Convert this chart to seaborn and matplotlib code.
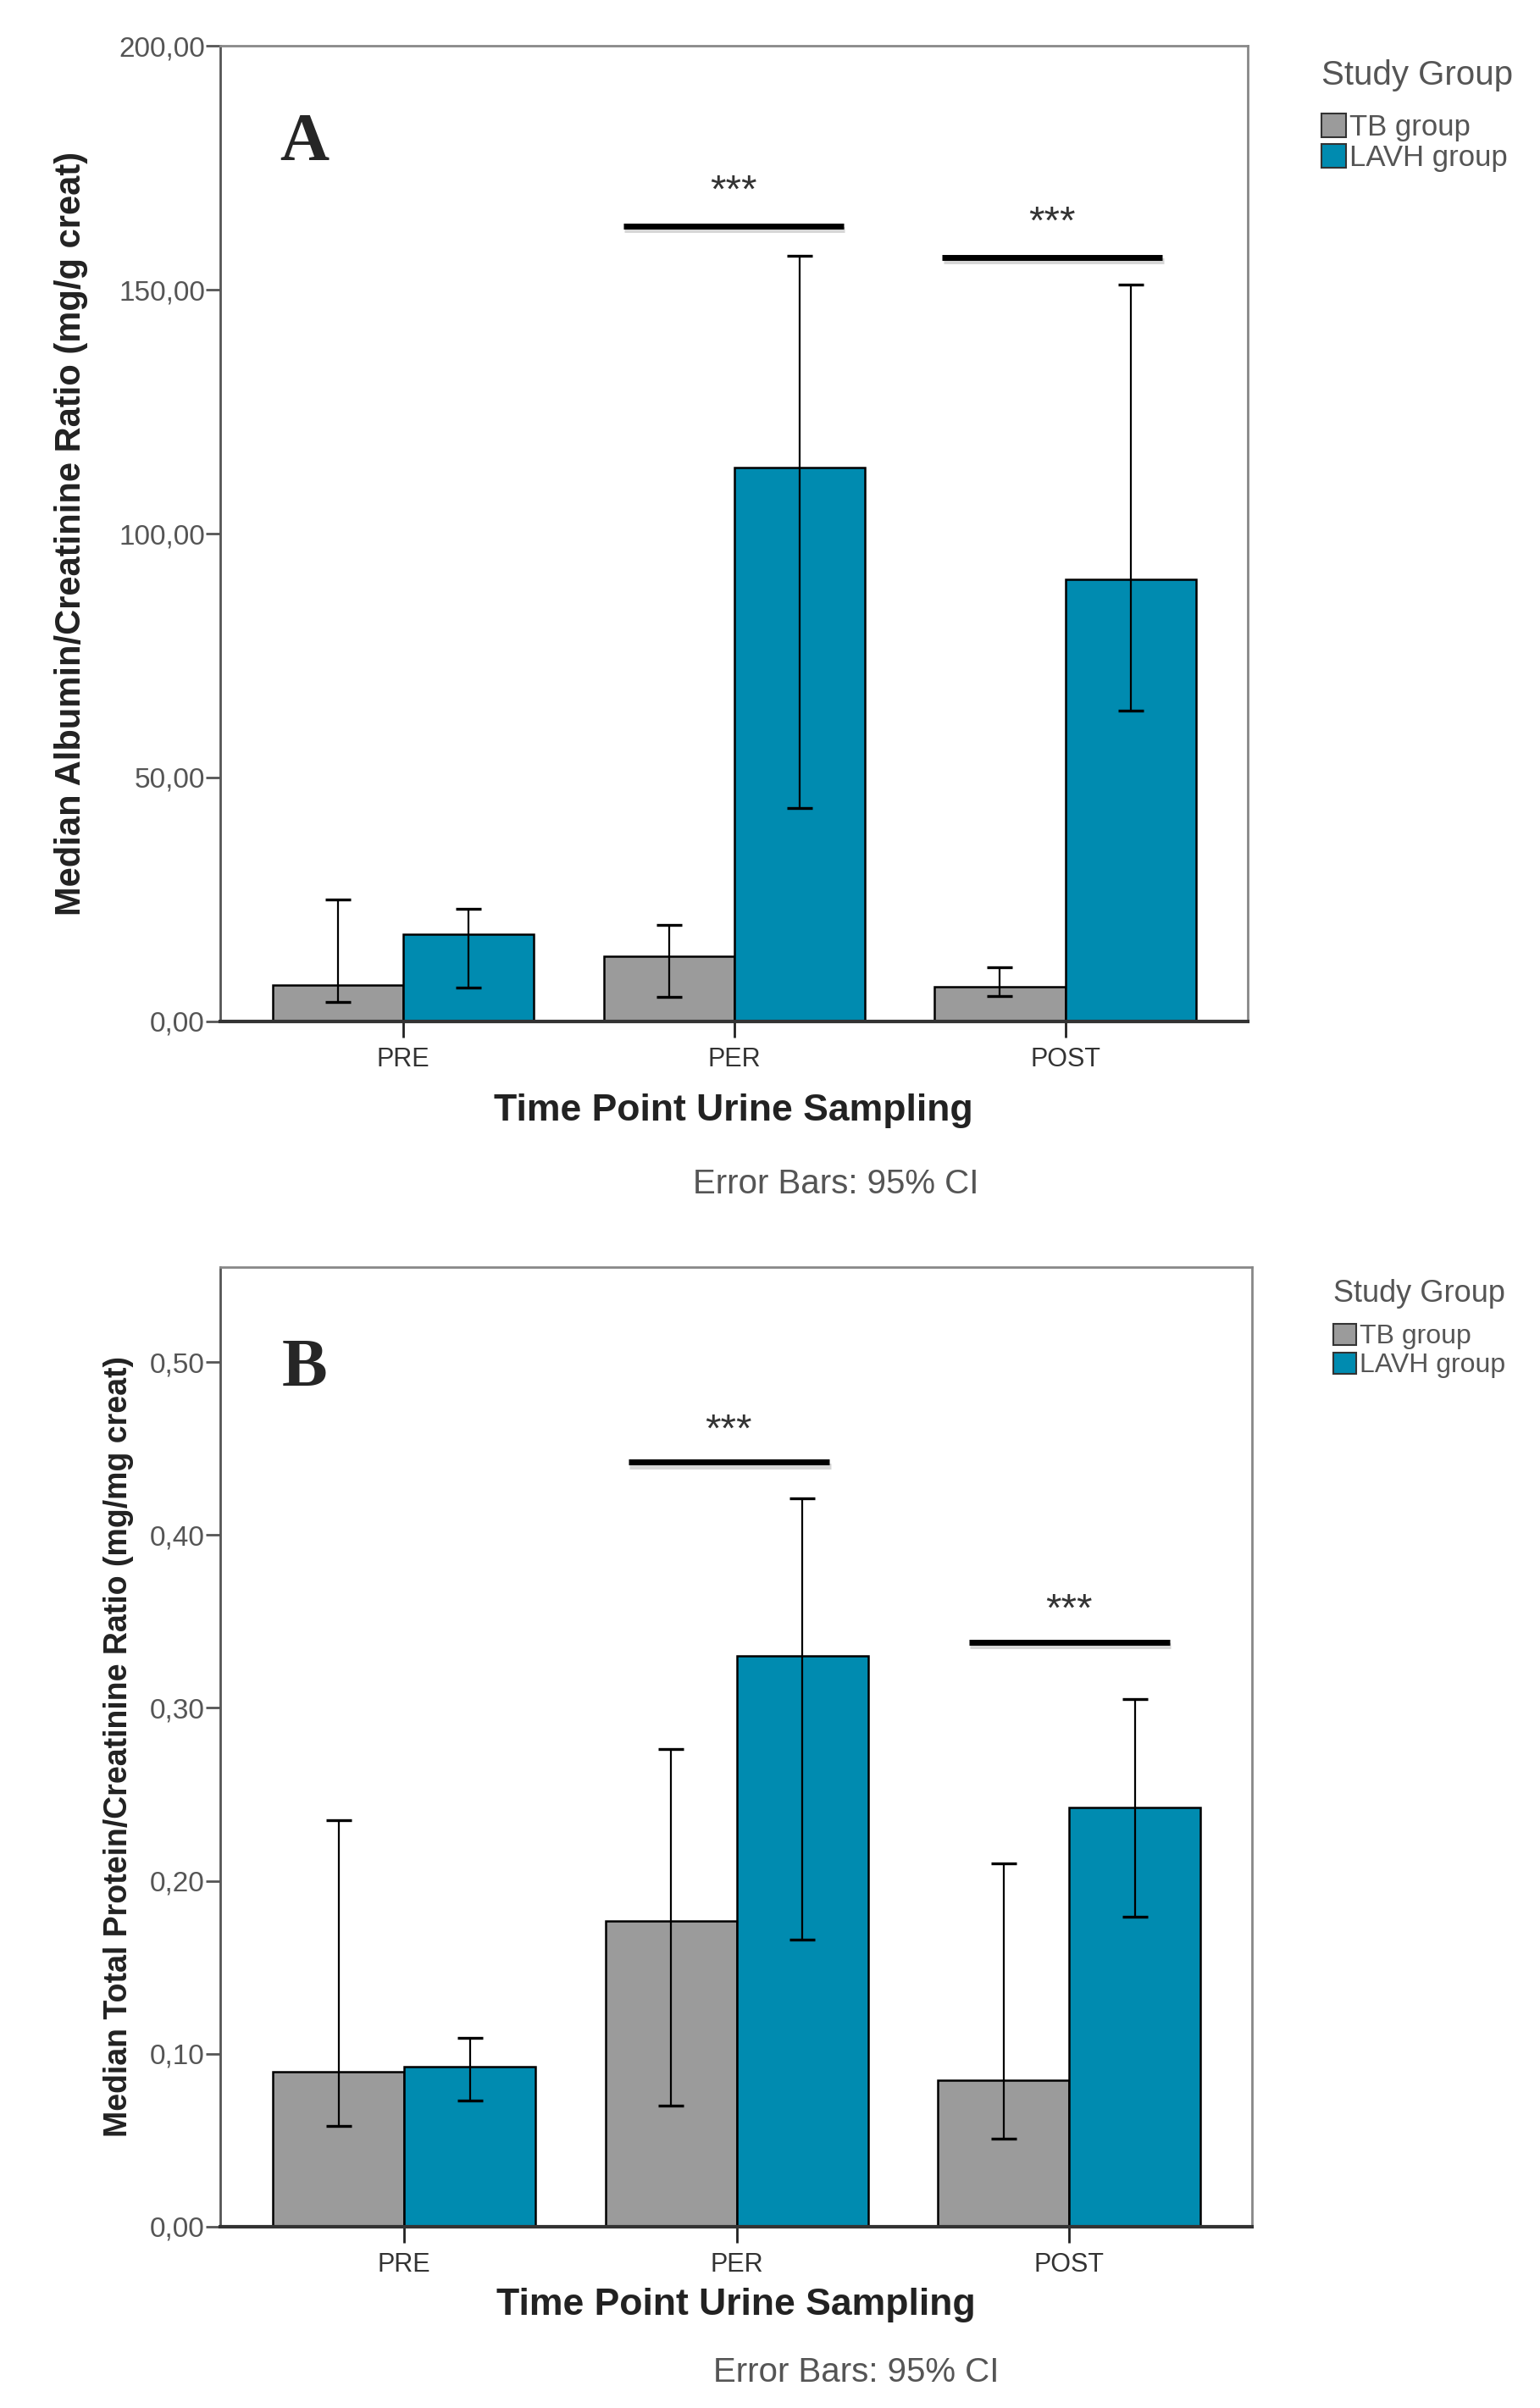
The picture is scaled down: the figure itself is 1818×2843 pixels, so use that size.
import numpy as np
import pandas as pd
import seaborn as sns
import matplotlib.pyplot as plt
import matplotlib.patheffects as pe
from matplotlib.ticker import FuncFormatter

momentos = ["PRE", "PER", "POST"]
grupos = ["TB group", "LAVH group"]
cores = ["#9b9b9b", "#008bb0"]

# painel A - albumina/creatinina (mg/g creat), mediana e IC 95%
alb_tb = [7.4, 13.4, 7.0]
alb_tb_low = [4.0, 5.0, 5.1]
alb_tb_high = [24.9, 19.8, 11.0]
alb_lavh = [17.9, 113.5, 90.6]
alb_lavh_low = [6.9, 43.8, 63.7]
alb_lavh_high = [23.1, 157.0, 151.0]
alb_sig_momentos = ["PER", "POST"]
alb_sig_y = [163.0, 156.6]
alb_sig_spans = [(-0.335, 0.33), (-0.372, 0.293)]
alb_ticks = [0, 50, 100, 150, 200]

# painel B - proteina total/creatinina (mg/mg creat)
prot_tb = [0.0896, 0.177, 0.0848]
prot_tb_low = [0.058, 0.070, 0.051]
prot_tb_high = [0.235, 0.276, 0.210]
prot_lavh = [0.0924, 0.330, 0.2425]
prot_lavh_low = [0.073, 0.166, 0.179]
prot_lavh_high = [0.109, 0.421, 0.305]
prot_sig_momentos = ["PER", "POST"]
prot_sig_y = [0.442, 0.338]
prot_sig_spans = [(-0.326, 0.279), (-0.302, 0.302)]
prot_ticks = [0.0, 0.1, 0.2, 0.3, 0.4, 0.5]

sns.set_style("white")
plt.rcParams['font.family'] = ['Liberation Sans', 'DejaVu Sans']

CINZA = "#555555"


def painel(ax, tb, tb_lo, tb_hi, lavh, lavh_lo, lavh_hi, ylim, ticks, ylabel,
           ylabel_x, ylabel_size, letra, letra_y, sig_m, sig_y, sig_spans, star_off,
           xlabel_y, leg_x, leg_title_y, leg_y, leg_title_size, leg_size):
    df = pd.DataFrame({
        "momento": momentos * 2,
        "grupo": [grupos[0]] * 3 + [grupos[1]] * 3,
        "valor": tb + lavh,
    })
    sns.barplot(data=df, x="momento", y="valor", hue="grupo", order=momentos,
                hue_order=grupos, palette=cores, saturation=1, width=0.79,
                errorbar=None, edgecolor="black", linewidth=1.8, ax=ax)

    # barras de erro (IC 95%)
    for cont, med, lo, hi in zip(ax.containers, [tb, lavh], [tb_lo, lavh_lo], [tb_hi, lavh_hi]):
        xs = [b.get_x() + b.get_width() / 2 for b in cont]
        med = np.array(med)
        yerr = [med - np.array(lo), np.array(hi) - med]
        ax.errorbar(xs, med, yerr=yerr, fmt="none", ecolor="black",
                    elinewidth=1.6, capsize=11, capthick=2.4, zorder=5)

    # linhas de significancia
    for m, y, (a, b) in zip(sig_m, sig_y, sig_spans):
        i = momentos.index(m)
        ax.plot([i + a, i + b], [y, y], color="black", lw=5, solid_capstyle="butt",
                path_effects=[pe.SimpleLineShadow(offset=(1, -3), shadow_color="#bbbbbb", alpha=0.6),
                              pe.Normal()])
        ax.text(i + (a + b) / 2, y + star_off, "***", ha="center", va="center",
                fontsize=34, color="#333333")

    ax.set_xlim(-0.553, 2.55)
    ax.set_ylim(*ylim)
    ax.set_yticks(ticks)
    ax.yaxis.set_major_formatter(FuncFormatter(lambda v, _: f"{v:.2f}".replace(".", ",")))
    ax.tick_params(axis="y", direction="out", length=12, width=2, color=CINZA,
                   labelsize=24, labelcolor=CINZA, pad=1, left=True)
    ax.tick_params(axis="x", direction="out", length=14, width=2, color="#222222",
                   labelsize=22, labelcolor="#333333", pad=8, bottom=True)

    ax.set_ylabel(ylabel, fontsize=ylabel_size, fontweight="bold", color="#222222")
    ax.yaxis.set_label_coords(ylabel_x, 0.5)
    ax.set_xlabel("Time Point Urine Sampling", fontsize=32, fontweight="bold", color="#222222")
    ax.xaxis.set_label_coords(0.5, xlabel_y)

    for lado in ["top", "right"]:
        ax.spines[lado].set_color("#888888")
        ax.spines[lado].set_linewidth(2)
    ax.spines["left"].set_color(CINZA)
    ax.spines["left"].set_linewidth(2)
    ax.spines["bottom"].set_color("#333333")
    ax.spines["bottom"].set_linewidth(3)

    ax.text(0.082, letra_y, letra, transform=ax.transAxes, ha="center", va="center",
            fontsize=58, fontweight="bold", family="Liberation Serif")

    # legenda com titulo separado (o espaco titulo-itens e maior)
    ax.text(leg_x, leg_title_y, "Study Group", transform=ax.transAxes, ha="left",
            va="center", fontsize=leg_title_size, color=CINZA)
    sns.move_legend(ax, "upper left", bbox_to_anchor=(leg_x, leg_y), frameon=False,
                    title=None, fontsize=leg_size, handlelength=0.85, handleheight=0.85,
                    handletextpad=0.1, labelspacing=0.1, borderpad=0, borderaxespad=0)
    leg = ax.get_legend()
    for t in leg.get_texts():
        t.set_color(CINZA)
    for h in leg.legend_handles:
        h.set_edgecolor("#333333")
        h.set_linewidth(1.5)


fig = plt.figure(figsize=(18.18, 28.43), dpi=100)
ax1 = fig.add_axes([0.143, 0.5759, 0.667, 0.405])
ax2 = fig.add_axes([0.143, 0.0753, 0.670, 0.3986])

painel(ax1, alb_tb, alb_tb_low, alb_tb_high, alb_lavh, alb_lavh_low, alb_lavh_high,
       (0, 200), alb_ticks, "Median Albumin/Creatinine Ratio (mg/g creat)", -0.129, 30,
       "A", 0.900, alb_sig_momentos, alb_sig_y, alb_sig_spans, 7.0, -0.074,
       1.072, 0.970, 0.931, 29, 25)
painel(ax2, prot_tb, prot_tb_low, prot_tb_high, prot_lavh, prot_lavh_low, prot_lavh_high,
       (0, 0.555), prot_ticks, "Median Total Protein/Creatinine Ratio (mg/mg creat)", -0.084, 27,
       "B", 0.893, prot_sig_momentos, prot_sig_y, prot_sig_spans, 0.018, -0.064,
       1.079, 0.972, 0.941, 26, 23)

fig.text(0.543, 1 - 771 / 1568, "Error Bars: 95% CI", ha="center", va="center",
         fontsize=29, color=CINZA)
fig.text(0.556, 1 - 1545 / 1568, "Error Bars: 95% CI", ha="center", va="center",
         fontsize=29, color=CINZA)

fig.savefig("out.png", dpi=100)
